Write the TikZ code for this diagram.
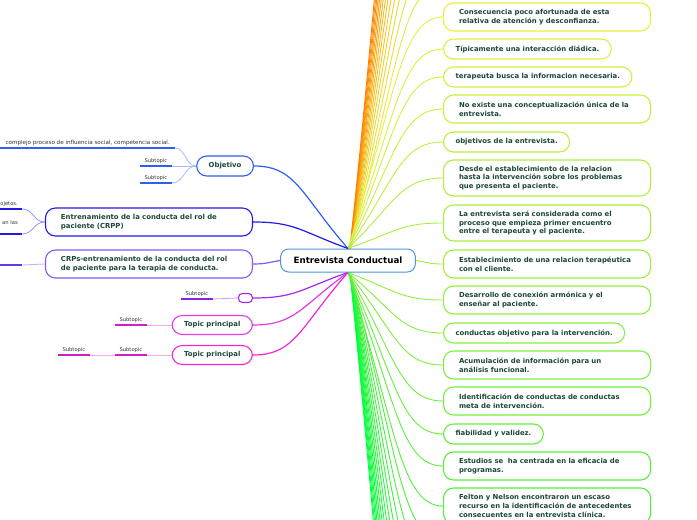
\documentclass[tikz,border=0pt]{standalone}
\usepackage{fontspec}
\usetikzlibrary{calc}
\newfontfamily\mapfont{DejaVu Sans}
\definecolor{topleaf}{RGB}{232,240,60}
\definecolor{lowleaf}{RGB}{80,240,60}
\definecolor{upfar}{RGB}{255,128,0}
\definecolor{downfar}{RGB}{0,255,64}
\definecolor{rootblue}{RGB}{80,150,220}
\definecolor{objblue}{RGB}{45,95,240}
\definecolor{objpale}{RGB}{165,185,255}
\definecolor{crppblue}{RGB}{35,25,225}
\definecolor{crpppale}{RGB}{150,150,255}
\definecolor{crpsviolet}{RGB}{130,90,240}
\definecolor{crpsline}{RGB}{105,55,225}
\definecolor{crpspale}{RGB}{190,175,255}
\definecolor{blankviolet}{RGB}{165,40,240}
\definecolor{blankline}{RGB}{140,35,215}
\definecolor{blankpale}{RGB}{205,160,250}
\definecolor{topicpink}{RGB}{225,60,230}
\definecolor{topicmag}{RGB}{240,40,210}
\definecolor{topicline}{RGB}{210,30,195}
\definecolor{topicpale}{RGB}{245,170,240}
\definecolor{inktext}{RGB}{28,72,56}
\definecolor{subgray}{RGB}{50,50,50}

\begin{document}
\begin{tikzpicture}[x=1pt,y=-1pt,
  leaf/.style={draw=#1, line width=1.1pt, fill=white, rounded corners=10pt,
    font=\mapfont\bfseries\fontsize{6.9}{8.6}\selectfont, text=inktext,
    inner xsep=12pt, inner ysep=0pt, minimum height=20pt},
  wide/.style={text width=176pt, inner xsep=15.5pt, align=left},
  sub/.style={font=\mapfont\fontsize{5.2}{6.2}\selectfont, text=subgray,
    inner xsep=4.5pt, inner ysep=1.8pt, anchor=south east},
  underl/.style={draw=#1, line width=1.4pt},
  curl/.style={to path={let \p1=(\tikztostart), \p2=(\tikztotarget) in
    .. controls ({0.5*\x1+0.5*\x2},{0.35*\y1+0.65*\y2}) and ({0.45*\x1+0.55*\x2},\y2) .. (\tikztotarget)}},
  twig/.style={to path={let \p1=(\tikztostart), \p2=(\tikztotarget) in
    .. controls ({0.5*\x1+0.5*\x2},\y1) and ({0.5*\x1+0.5*\x2},\y2) .. (\tikztotarget)}}
]
\useasboundingbox (0,0) rectangle (697,520);
\clip (0,0) rectangle (697,520);

\foreach \k in {1,...,14}{
  \pgfmathsetmacro\mixup{100*\k/14}
  \coordinate (up\k) at (443,{17-32*\k});
  \draw[line width=0.9pt, upfar!\mixup!topleaf] (350,249) to[curl] (up\k);
  \coordinate (dn\k) at (443,{506+34*\k});
  \draw[line width=0.9pt, downfar!\mixup!lowleaf] (350,272) to[curl] (dn\k);
}

\node[draw=rootblue, line width=1pt, rounded corners=8pt, fill=white,
  font=\mapfont\bfseries\fontsize{8.7}{10}\selectfont, minimum height=23pt,
  inner xsep=13pt] (root) at (348,260.5) {Entrevista Conductual};

\node[leaf=topleaf, wide, minimum height=28pt, anchor=west] (n1) at (443,17) {Consecuencia poco afortunada de esta\\relativa de atención y desconfianza.};
\node[leaf=lowleaf!7!topleaf, anchor=west] (n2) at (443,49) {Típicamente una interacción diádica.};
\node[leaf=lowleaf!14!topleaf, anchor=west] (n3) at (443,77) {terapeuta busca la informacion necesaria.};
\node[leaf=lowleaf!21!topleaf, wide, minimum height=28pt, anchor=west] (n4) at (443,109) {No existe una conceptualización única de la\\entrevista.};
\node[leaf=lowleaf!29!topleaf, anchor=west] (n5) at (443,142) {objetivos de la entrevista.};
\node[leaf=lowleaf!36!topleaf, wide, minimum height=36pt, anchor=west] (n6) at (443,178) {Desde el establecimiento de la relacion\\hasta la intervención sobre los problemas\\que presenta el paciente.};
\node[leaf=lowleaf!43!topleaf, wide, minimum height=36pt, anchor=west] (n7) at (443,223) {La entrevista será considerada como el\\proceso que empieza primer encuentro\\entre el terapeuta y el paciente.};
\node[leaf=lowleaf!50!topleaf, wide, minimum height=28pt, anchor=west] (n8) at (443,264) {Establecimiento de una relacion terapéutica\\con el cliente.};
\node[leaf=lowleaf!57!topleaf, wide, minimum height=28pt, anchor=west] (n9) at (443,300) {Desarrollo de conexión armónica y el\\enseñar al paciente.};
\node[leaf=lowleaf!64!topleaf, anchor=west] (n10) at (443,333) {conductas objetivo para la intervención.};
\node[leaf=lowleaf!71!topleaf, wide, minimum height=28pt, anchor=west] (n11) at (443,365) {Acumulación de información para un\\análisis funcional.};
\node[leaf=lowleaf!79!topleaf, wide, minimum height=28pt, anchor=west] (n12) at (443,401) {Identificación de conductas de conductas\\meta de intervención.};
\node[leaf=lowleaf!86!topleaf, anchor=west] (n13) at (443,434) {fiabilidad y validez.};
\node[leaf=lowleaf!93!topleaf, wide, minimum height=28pt, anchor=west] (n14) at (443,466) {Estudios se\ \ ha centrada en la eficacia de\\programas.};
\node[leaf=lowleaf, wide, minimum height=36pt, anchor=west] (n15) at (443,506) {Felton y Nelson encontraron un escaso\\recurso en la identificación de antecedentes\\consecuentes en la entrevista clínica.};

\draw[line width=0.9pt, topleaf] (root.north) to[curl] (n1.west);
\draw[line width=0.9pt, lowleaf!7!topleaf] (root.north) to[curl] (n2.west);
\draw[line width=0.9pt, lowleaf!14!topleaf] (root.north) to[curl] (n3.west);
\draw[line width=0.9pt, lowleaf!21!topleaf] (root.north) to[curl] (n4.west);
\draw[line width=0.9pt, lowleaf!29!topleaf] (root.north) to[curl] (n5.west);
\draw[line width=0.9pt, lowleaf!36!topleaf] (root.north) to[curl] (n6.west);
\draw[line width=0.9pt, lowleaf!43!topleaf] (root.north) to[curl] (n7.west);
\draw[line width=0.9pt, lowleaf!50!topleaf] (root.east) to[curl] (n8.west);
\draw[line width=0.9pt, lowleaf!57!topleaf] (root.south) to[curl] (n9.west);
\draw[line width=0.9pt, lowleaf!64!topleaf] (root.south) to[curl] (n10.west);
\draw[line width=0.9pt, lowleaf!71!topleaf] (root.south) to[curl] (n11.west);
\draw[line width=0.9pt, lowleaf!79!topleaf] (root.south) to[curl] (n12.west);
\draw[line width=0.9pt, lowleaf!86!topleaf] (root.south) to[curl] (n13.west);
\draw[line width=0.9pt, lowleaf!93!topleaf] (root.south) to[curl] (n14.west);
\draw[line width=0.9pt, lowleaf] (root.south) to[curl] (n15.west);

\node[leaf=objblue, anchor=east] (obj) at (254,166) {Objetivo};
\node[leaf=crppblue, wide, minimum height=28pt, anchor=east] (crpp) at (253,222) {Entrenamiento de la conducta del rol de\\paciente (CRPP)};
\node[leaf=crpsviolet, wide, minimum height=28pt, anchor=east] (crps) at (253,264) {CRPs-entrenamiento de la conducta del rol\\de paciente para la terapia de conducta.};
\node[draw=blankviolet, line width=1.1pt, fill=white, rounded corners=4pt, minimum width=14pt,
  minimum height=9pt, inner sep=0pt, anchor=east] (blank) at (253,298) {};
\node[leaf=topicpink, anchor=east, minimum height=19pt] (tp1) at (253,325) {Topic principal};
\node[leaf=topicmag, anchor=east, minimum height=19pt] (tp2) at (253,355) {Topic principal};

\draw[line width=1.2pt, objblue] (root.north) to[curl] (obj.east);
\draw[line width=1.2pt, crppblue] (root.north) to[curl] (crpp.east);
\draw[line width=1.2pt, crpsviolet] (root.west) to[curl] (crps.east);
\draw[line width=1.2pt, blankviolet] (root.south) to[curl] (blank.east);
\draw[line width=1.2pt, topicpink] (root.south) to[curl] (tp1.east);
\draw[line width=1.2pt, topicmag] (root.south) to[curl] (tp2.east);

\node[sub, inner xsep=5pt, font=\mapfont\fontsize{5.6}{6.6}\selectfont] (obs0) at (175,148) {complejo proceso de influencia social, competencia social.};
\node[sub] (obs1) at (172,166) {Subtopic};
\node[sub] (obs2) at (172,183) {Subtopic};
\node[sub, text width=50pt, align=right, inner xsep=4pt] (ent1) at (22,209) {ojetos.};
\node[sub, text width=50pt, align=right, inner xsep=4pt] (ent2) at (22,234) {an las\\[1pt]\mbox{}};
\node[sub, minimum width=40pt] (crpsub) at (22,265) {};
\node[sub] (bls) at (213,299) {Subtopic};
\node[sub] (t1s) at (147,325) {Subtopic};
\node[sub] (t2s) at (147,355) {Subtopic};
\node[sub] (t2ss) at (90,355) {Subtopic};

\draw[underl=objblue] (obs0.south west) -- (obs0.south east);
\draw[underl=objblue] (obs1.south west) -- (obs1.south east);
\draw[underl=objblue] (obs2.south west) -- (obs2.south east);
\draw[underl=crppblue] (ent1.south west) -- (ent1.south east);
\draw[underl=crppblue] (ent2.south west) -- (ent2.south east);
\draw[underl=crpsline] (crpsub.south west) -- (crpsub.south east);
\draw[underl=blankline] (bls.south west) -- (bls.south east);
\draw[underl=topicline] (t1s.south west) -- (t1s.south east);
\draw[underl=topicline] (t2s.south west) -- (t2s.south east);
\draw[underl=topicline] (t2ss.south west) -- (t2ss.south east);

\draw[line width=0.8pt, objpale] (obj.west) to[twig] (obs0.south east);
\draw[line width=0.8pt, objpale] (obj.west) to[twig] (obs1.south east);
\draw[line width=0.8pt, objpale] (obj.west) to[twig] (obs2.south east);
\draw[line width=0.8pt, crpppale] (crpp.west) to[twig] (ent1.south east);
\draw[line width=0.8pt, crpppale] (crpp.west) to[twig] (ent2.south east);
\draw[line width=0.8pt, crpspale] (crps.west) to[twig] (crpsub.south east);
\draw[line width=0.8pt, blankpale] (blank.west) to[twig] (bls.south east);
\draw[line width=0.8pt, topicpale] (tp1.west) to[twig] (t1s.south east);
\draw[line width=0.8pt, topicpale] (tp2.west) to[twig] (t2s.south east);
\draw[line width=0.8pt, topicpale] (t2s.south west) to[twig] (t2ss.south east);
\end{tikzpicture}
\end{document}
